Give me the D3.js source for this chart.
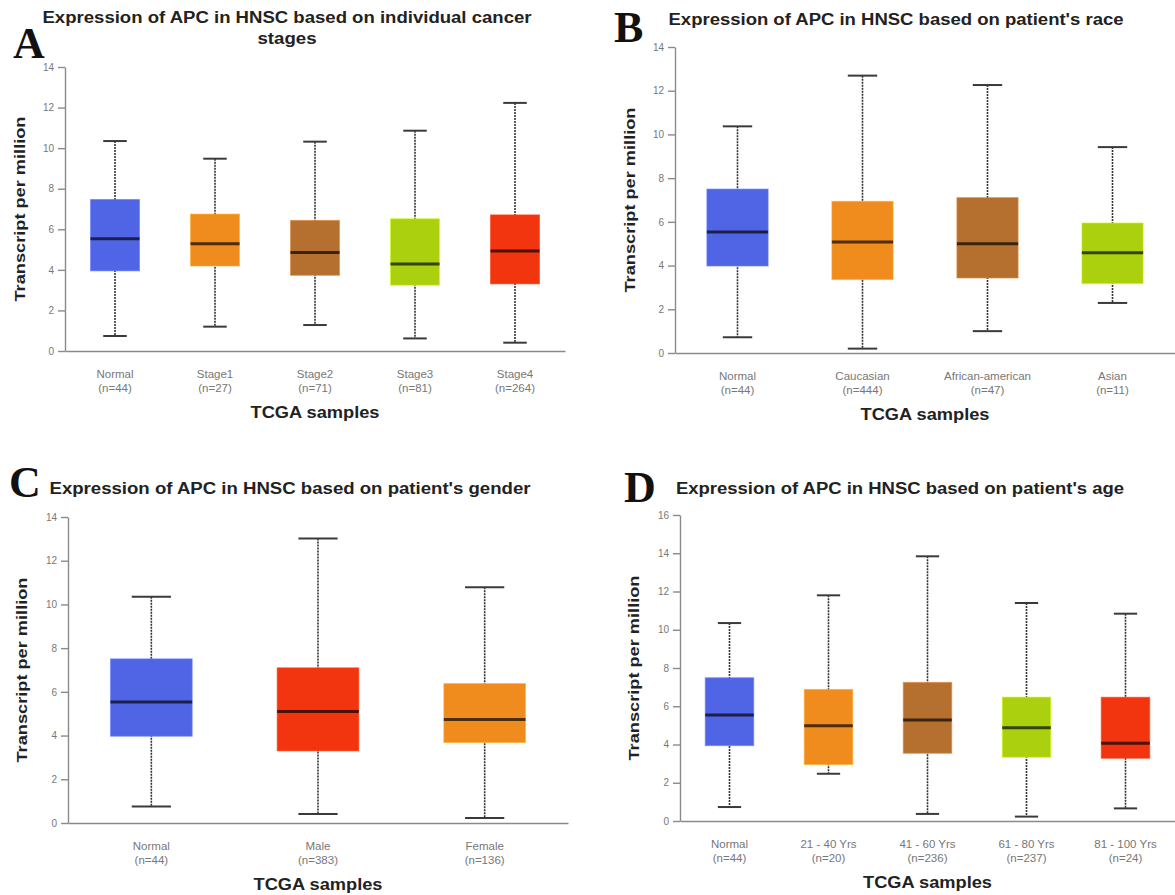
<!DOCTYPE html>
<html>
<head>
<meta charset="utf-8">
<script src="https://cdn.jsdelivr.net/npm/d3@7"></script>
<style>
  body { margin: 0; background: #fff; }
  svg { display: block; }
  text { font-family: "Liberation Sans", Arial, sans-serif; }
</style>
</head>
<body>
<svg id="fig" width="1175" height="895"></svg>
<script>
// box colours used by the server
const blue = "#5064e6", orange = "#f08c1e", brown = "#b5702f", lime = "#aad00e", red = "#f2340f";

// A: cancer stages
const stageCats = ["Normal", "Stage1", "Stage2", "Stage3", "Stage4"];
const stageN = ["(n=44)", "(n=27)", "(n=71)", "(n=81)", "(n=264)"];
const stageMin = [0.74, 1.20, 1.28, 0.62, 0.41];
const stageQ1 = [3.95, 4.19, 3.73, 3.24, 3.31];
const stageMed = [5.53, 5.29, 4.85, 4.29, 4.93];
const stageQ3 = [7.47, 6.75, 6.44, 6.52, 6.71];
const stageMax = [10.35, 9.48, 10.32, 10.86, 12.23];
const stageColors = [blue, orange, brown, lime, red];

// B: race
const raceCats = ["Normal", "Caucasian", "African-american", "Asian"];
const raceN = ["(n=44)", "(n=444)", "(n=47)", "(n=11)"];
const raceMin = [0.72, 0.20, 1.00, 2.29];
const raceQ1 = [3.98, 3.36, 3.43, 3.17];
const raceMed = [5.54, 5.08, 5.00, 4.59];
const raceQ3 = [7.50, 6.94, 7.11, 5.95];
const raceMax = [10.37, 12.69, 12.26, 9.42];
const raceColors = [blue, orange, brown, lime];

// C: gender
const genderCats = ["Normal", "Male", "Female"];
const genderN = ["(n=44)", "(n=383)", "(n=136)"];
const genderMin = [0.75, 0.41, 0.23];
const genderQ1 = [3.97, 3.30, 3.68];
const genderMed = [5.54, 5.10, 4.73];
const genderQ3 = [7.51, 7.10, 6.38];
const genderMax = [10.35, 13.02, 10.79];
const genderColors = [blue, red, orange];

// D: age
const ageCats = ["Normal", "21 - 40 Yrs", "41 - 60 Yrs", "61 - 80 Yrs", "81 - 100 Yrs"];
const ageN = ["(n=44)", "(n=20)", "(n=236)", "(n=237)", "(n=24)"];
const ageMin = [0.73, 2.47, 0.37, 0.23, 0.66];
const ageQ1 = [3.94, 2.95, 3.54, 3.33, 3.28];
const ageMed = [5.54, 4.98, 5.28, 4.88, 4.06];
const ageQ3 = [7.49, 6.88, 7.25, 6.48, 6.47];
const ageMax = [10.35, 11.80, 13.84, 11.40, 10.84];
const ageColors = [blue, orange, brown, lime, red];

const rows = (cats, n, mn, q1, md, q3, mx, cols) =>
  cats.map((c, i) => ({cat: c, n: n[i], min: mn[i], q1: q1[i], med: md[i], q3: q3[i], max: mx[i], color: cols[i]}));

const panels = [
  {letter: "A", lx: 13, ly: 58, x0: 65, x1: 565, yTop: 67, yBot: 351, yMax: 14,
   title: [["Expression of APC in HNSC based on individual cancer", 489, 23], ["stages", 59, 44]], tx: 287, ylx: 25,
   data: rows(stageCats, stageN, stageMin, stageQ1, stageMed, stageQ3, stageMax, stageColors)},
  {letter: "B", lx: 614, ly: 42, x0: 675, x1: 1175, yTop: 47, yBot: 353, yMax: 14,
   title: [["Expression of APC in HNSC based on patient's race", 455, 25]], tx: 896, ylx: 635,
   data: rows(raceCats, raceN, raceMin, raceQ1, raceMed, raceQ3, raceMax, raceColors)},
  {letter: "C", lx: 9, ly: 497, x0: 68, x1: 568, yTop: 517, yBot: 823, yMax: 14,
   title: [["Expression of APC in HNSC based on patient's gender", 481, 494]], tx: 290, ylx: 27,
   data: rows(genderCats, genderN, genderMin, genderQ1, genderMed, genderQ3, genderMax, genderColors)},
  {letter: "D", lx: 624, ly: 502, x0: 680, x1: 1175, yTop: 515, yBot: 821, yMax: 16,
   title: [["Expression of APC in HNSC based on patient's age", 448, 494]], tx: 900, ylx: 639,
   data: rows(ageCats, ageN, ageMin, ageQ1, ageMed, ageQ3, ageMax, ageColors)}
];

const svg = d3.select("#fig");

function drawPanel(p) {
  const g = svg.append("g");
  const x = d3.scaleBand().domain(p.data.map(d => d.cat))
      .range([p.x0, p.x1]).paddingInner(0.51).paddingOuter(0.255);
  const y = d3.scaleLinear().domain([0, p.yMax]).range([p.yBot, p.yTop]);
  const bw = x.bandwidth();
  const cx = d => x(d.cat) + bw / 2;

  // y axis
  const ya = g.append("g")
      .attr("transform", `translate(${p.x0},0)`)
      .call(d3.axisLeft(y).tickValues(d3.range(0, p.yMax + 1, 2)).tickSize(7).tickSizeOuter(0).tickPadding(4));
  ya.selectAll("path, line").attr("stroke", "#8a8a8a").attr("stroke-width", 1.4);
  ya.selectAll("text").attr("fill", "#777").style("font-size", "10px");

  // x axis (line only, labels drawn below)
  const xa = g.append("g")
      .attr("transform", `translate(0,${p.yBot})`)
      .call(d3.axisBottom(x).tickSize(0).tickSizeOuter(0).tickFormat(""));
  xa.select("path").attr("stroke", "#8a8a8a").attr("stroke-width", 1.6);

  const box = g.selectAll(".box").data(p.data).enter().append("g").attr("class", "box");

  // whiskers
  box.append("line")
      .attr("x1", cx).attr("x2", cx)
      .attr("y1", d => y(d.max)).attr("y2", d => y(d.min))
      .attr("stroke", "#333").attr("stroke-width", 1.6).attr("stroke-dasharray", "2,1");
  box.selectAll(".cap").data(d => [d, d].map((e, i) => ({v: i ? e.min : e.max, d: e})))
    .enter().append("line")
      .attr("x1", e => cx(e.d) - bw * 0.24).attr("x2", e => cx(e.d) + bw * 0.24)
      .attr("y1", e => y(e.v)).attr("y2", e => y(e.v))
      .attr("stroke", "#3a3a3a").attr("stroke-width", 2);

  // boxes
  box.append("rect")
      .attr("x", d => x(d.cat)).attr("width", bw)
      .attr("y", d => y(d.q3)).attr("height", d => y(d.q1) - y(d.q3))
      .attr("fill", d => d.color)
      .attr("stroke", d => d3.color(d.color).brighter(0.6)).attr("stroke-width", 1).attr("stroke-opacity", 0.6);
  box.append("line")
      .attr("x1", d => x(d.cat)).attr("x2", d => x(d.cat) + bw)
      .attr("y1", d => y(d.med)).attr("y2", d => y(d.med))
      .attr("stroke", d => d3.color(d.color).darker(3.2)).attr("stroke-width", 3);

  // category labels
  const lab = g.selectAll(".lab").data(p.data).enter().append("text")
      .attr("text-anchor", "middle").attr("fill", "#777").style("font-size", "11.5px");
  lab.append("tspan").attr("x", cx).attr("y", p.yBot + 26.5).text(d => d.cat);
  lab.append("tspan").attr("x", cx).attr("y", p.yBot + 40.5).text(d => d.n);

  // axis titles
  g.append("text")
      .attr("x", (p.x0 + p.x1) / 2).attr("y", p.yBot + 66.5)
      .attr("text-anchor", "middle").attr("font-weight", "bold").style("font-size", "16px")
      .attr("fill", "#222").attr("textLength", 129).attr("lengthAdjust", "spacingAndGlyphs")
      .text("TCGA samples");
  const ym = (p.yTop + p.yBot) / 2;
  g.append("text")
      .attr("transform", `translate(${p.ylx},${ym}) rotate(-90)`)
      .attr("text-anchor", "middle").attr("font-weight", "bold").style("font-size", "15px")
      .attr("fill", "#222").attr("textLength", 185).attr("lengthAdjust", "spacingAndGlyphs")
      .text("Transcript per million");

  // title
  p.title.forEach(([t, w, ty]) => {
    g.append("text")
        .attr("x", p.tx).attr("y", ty)
        .attr("text-anchor", "middle").attr("font-weight", "bold").style("font-size", "16px")
        .attr("fill", "#222").attr("textLength", w).attr("lengthAdjust", "spacingAndGlyphs")
        .text(t);
  });

  // panel letter
  g.append("text")
      .attr("x", p.lx).attr("y", p.ly)
      .attr("font-weight", "bold").style("font-family", "'Liberation Serif', 'Times New Roman', serif")
      .style("font-size", "44px").attr("fill", "#111")
      .text(p.letter);
}

panels.forEach(drawPanel);
</script>
</body>
</html>
